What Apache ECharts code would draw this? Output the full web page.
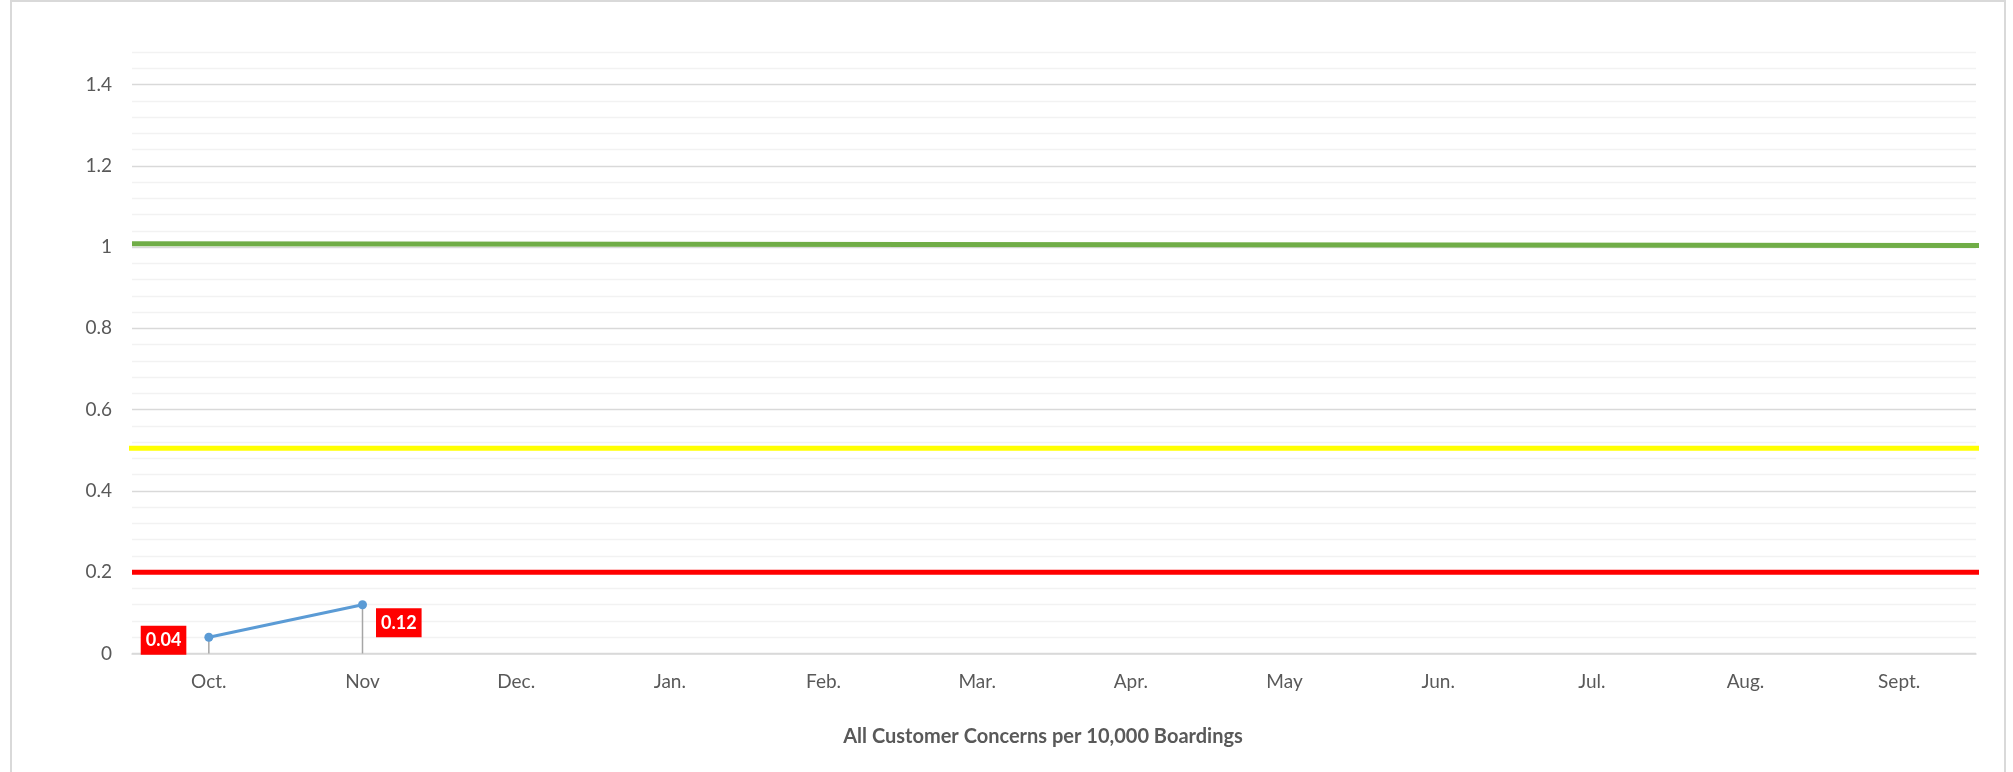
<!DOCTYPE html>
<html>
<head>
<meta charset="utf-8">
<script src="https://cdn.jsdelivr.net/npm/echarts@6/dist/echarts.min.js"></script>
<style>
  html, body { margin: 0; padding: 0; background: #fff; }
  #chart { width: 2013px; height: 772px; }
</style>
</head>
<body>
<div id="chart"></div>
<script>
// Monthly categories and observed rate of customer concerns per 10,000 boardings
const months = ['Oct.', 'Nov', 'Dec.', 'Jan.', 'Feb.', 'Mar.', 'Apr.', 'May', 'Jun.', 'Jul.', 'Aug.', 'Sept.'];
const concerns = [0.04, 0.12, null, null, null, null, null, null, null, null, null, null];

// Threshold bands drawn across the year: [month position, value]
const greenLine = [[0, 1.008], [12.06, 1.004]];
const yellowLine = [[-0.03, 0.505], [12.02, 0.505]];
const redLine = [[0, 0.2], [12.04, 0.2]];

// Value axis range and labelled steps
const yMin = 0;
const yMax = 1.48;
const yStep = 0.04;
const yLabelStep = 0.2;

const FONT = 'Lato, "Open Sans", "Noto Sans", sans-serif';
const TEXT = '#595959';

const chart = echarts.init(document.getElementById('chart'), null, { renderer: 'canvas' });

// Every fifth grid line (0.2 step) is a major line, the rest are faint minor lines
const gridColors = ['#d9d9d9', '#f2f2f2', '#f2f2f2', '#f2f2f2', '#f2f2f2'];

const labelLeft = {
  show: true, position: 'left', distance: 18, offset: [0, 3],
  backgroundColor: '#ff0000', color: '#ffffff', fontWeight: 'bold',
  fontFamily: FONT, fontSize: 18, lineHeight: 18, padding: [6, 5, 5, 5],
  formatter: p => p.value.toFixed(2)
};
const labelRight = Object.assign({}, labelLeft, { position: 'right', distance: 9, offset: [0, 18] });

const concernPoints = concerns.map((v, i) => (v == null ? null : {
  value: v,
  label: i === 0 ? labelLeft : labelRight
}));

chart.setOption({
  animation: false,
  backgroundColor: '#ffffff',
  graphic: [{
    type: 'rect',
    shape: { x: 11, y: 1, width: 1994, height: 800 },
    style: { fill: 'none', stroke: '#d9d9d9', lineWidth: 2 },
    silent: true, z: -10
  }],
  title: {
    text: 'All Customer Concerns per 10,000 Boardings',
    left: 1038, top: 722, textAlign: 'center',
    textStyle: { fontFamily: FONT, fontSize: 20, fontWeight: 'bold', color: TEXT }
  },
  grid: { left: 132, right: 37, top: 52, bottom: 118.5, containLabel: false },
  xAxis: [{
    type: 'category',
    data: months,
    boundaryGap: true,
    axisLine: { show: true, lineStyle: { color: '#d9d9d9', width: 1.5 } },
    axisTick: { show: false },
    axisLabel: { color: TEXT, fontFamily: FONT, fontSize: 19, margin: 19 },
    splitLine: { show: false }
  }, {
    type: 'value', min: 0, max: 12, show: false
  }],
  yAxis: {
    type: 'value',
    min: yMin, max: yMax, interval: yStep,
    axisLine: { show: false },
    axisTick: { show: false },
    axisLabel: {
      color: TEXT, fontFamily: FONT, fontSize: 19, margin: 20,
      showMaxLabel: false,
      formatter: v => {
        const k = v / yLabelStep;
        return Math.abs(k - Math.round(k)) < 1e-6 ? String(+v.toFixed(1)) : '';
      }
    },
    splitLine: { show: true, lineStyle: { color: gridColors, width: 1.3 } }
  },
  series: [
    {
      name: 'drop', type: 'bar', data: concerns, xAxisIndex: 0,
      barWidth: 1.5, itemStyle: { color: '#a6a6a6' }, silent: true, z: 1
    },
    {
      name: 'green', type: 'line', xAxisIndex: 1, data: greenLine, clip: false,
      symbol: 'none', lineStyle: { color: '#70ad47', width: 5 }, z: 3
    },
    {
      name: 'yellow', type: 'line', xAxisIndex: 1, data: yellowLine, clip: false,
      symbol: 'none', lineStyle: { color: '#ffff00', width: 5 }, z: 3
    },
    {
      name: 'red', type: 'line', xAxisIndex: 1, data: redLine, clip: false,
      symbol: 'none', lineStyle: { color: '#ff0000', width: 5 }, z: 3
    },
    {
      name: 'concerns', type: 'line', xAxisIndex: 0, data: concernPoints,
      symbol: 'circle', symbolSize: 9, showSymbol: true,
      lineStyle: { color: '#5b9bd5', width: 3 },
      itemStyle: { color: '#5b9bd5' }, z: 5
    }
  ]
});
</script>
</body>
</html>
